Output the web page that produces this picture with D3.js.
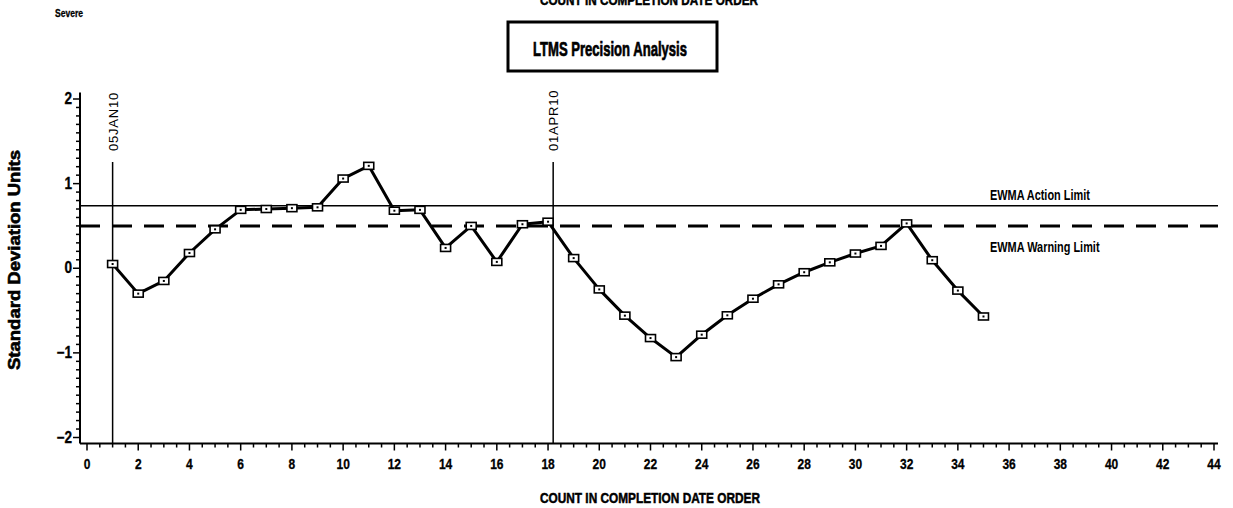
<!DOCTYPE html>
<html><head><meta charset="utf-8">
<script src="https://cdn.jsdelivr.net/npm/d3@7"></script>
<style>
body{margin:0;background:#fff;}
text{fill:#000;}
</style></head>
<body>
<svg id="chart" width="1233" height="508"></svg>
<script>
const counts = d3.range(1, 36);
const ewma = [0.05,-0.30,-0.15,0.18,0.46,0.69,0.70,0.71,0.72,1.06,1.21,0.68,0.69,0.24,0.50,0.075,0.52,0.55,0.12,-0.25,-0.56,-0.825,-1.05,-0.785,-0.556,-0.36,-0.19,-0.047,0.07,0.174,0.264,0.53,0.095,-0.264,-0.57];
const actionLimit = 0.74;
const warningLimit = 0.50;
const refLines = [{x:1, label:"05JAN10"},{x:18.2, label:"01APR10"}];
const xTicks = d3.range(0, 45, 2);
const yTicks = [-2,-1,0,1,2];

const svg = d3.select("#chart");
const sans = "'Liberation Sans',Arial,sans-serif";
const x = d3.scaleLinear().domain([0,44]).range([87,1214]);
const y = d3.scaleLinear().domain([-2,2]).range([437.5,99]);
const xLeft = 80, xRight = 1218, yBottom = 443.5, yTop = 92.5;

function ctext(px, py, str, size, anchor, sx, weight){
  return svg.append("text").attr("transform",`translate(${px},${py}) scale(${sx},1)`)
    .attr("text-anchor",anchor).style("font-family",sans).style("font-weight",weight||"bold")
    .style("font-size",size+"px").text(str);
}

// axes lines
svg.append("line").attr("x1",xLeft).attr("x2",xRight).attr("y1",yBottom).attr("y2",yBottom).attr("stroke","#000").attr("stroke-width",2);
svg.append("line").attr("x1",xLeft).attr("x2",xLeft).attr("y1",yTop).attr("y2",yBottom).attr("stroke","#000").attr("stroke-width",2);

// x ticks
const xMinor = d3.range(0, 44.01, 0.5);
svg.append("g").selectAll("line").data(xMinor).join("line")
  .attr("x1",d=>x(d)).attr("x2",d=>x(d)).attr("y1",yBottom)
  .attr("y2",d=>yBottom + (d%2===0?7:4)).attr("stroke","#000").attr("stroke-width",1.5);
svg.append("g").selectAll("text").data(xTicks).join("text")
  .attr("transform",d=>`translate(${x(d)},${yBottom+25}) scale(0.8,1)`).attr("text-anchor","middle")
  .style("font-family",sans).style("font-weight","bold").style("font-size","15px")
  .style("stroke","#000").style("stroke-width","0.3px")
  .text(d=>d);

// y ticks
const yMinor = d3.range(-20, 21).map(d=>d/10);
svg.append("g").selectAll("line").data(yMinor).join("line")
  .attr("y1",d=>y(d)).attr("y2",d=>y(d)).attr("x1",xLeft)
  .attr("x2",d=>xLeft - (Math.abs(d - Math.round(d))<1e-9?7:4)).attr("stroke","#000").attr("stroke-width",1.5);
svg.append("g").selectAll("text").data(yTicks).join("text")
  .attr("transform",d=>`translate(${xLeft-8},${y(d)+5}) scale(0.85,1)`).attr("text-anchor","end")
  .style("font-family",sans).style("font-weight","bold").style("font-size","16px")
  .style("stroke","#000").style("stroke-width","0.3px")
  .text(d=>d<0?"\u2212"+Math.abs(d):d);

// limit lines
svg.append("line").attr("x1",xLeft).attr("x2",xRight).attr("y1",y(actionLimit)).attr("y2",y(actionLimit)).attr("stroke","#000").attr("stroke-width",1.5);
svg.append("line").attr("x1",xLeft).attr("x2",xRight).attr("y1",y(warningLimit)).attr("y2",y(warningLimit)).attr("stroke","#000").attr("stroke-width",3).attr("stroke-dasharray","20,12");
ctext(990, y(actionLimit)-6, "EWMA Action Limit", 14, "start", 0.78);
ctext(990, y(warningLimit)+26, "EWMA Warning Limit", 14, "start", 0.78);

// reference lines
refLines.forEach(r=>{
  svg.append("line").attr("x1",x(r.x)).attr("x2",x(r.x)).attr("y1",162).attr("y2",yBottom).attr("stroke","#000").attr("stroke-width",1.5);
  svg.append("text").attr("transform",`translate(${x(r.x)+5},151) rotate(-90)`)
    .style("font-family",sans).style("font-size","13px").style("letter-spacing","0.8px").text(r.label);
});

// data line
const pts = counts.map((c,i)=>({c, v:ewma[i]}));
svg.append("path").datum(pts)
  .attr("d", d3.line().x(d=>x(d.c)).y(d=>y(d.v)))
  .attr("fill","none").attr("stroke","#000").attr("stroke-width",3).attr("stroke-linejoin","round");
const mk = svg.append("g").selectAll("g").data(pts).join("g").attr("transform",d=>`translate(${x(d.c)},${y(d.v)})`);
mk.append("rect").attr("x",-5).attr("y",-3.5).attr("width",10).attr("height",7).attr("fill","#fff").attr("stroke","#000").attr("stroke-width",1.6);
mk.append("rect").attr("x",-1).attr("y",-1).attr("width",2).attr("height",2).attr("fill","#000");

// titles
svg.append("text").attr("x",649).attr("y",5).attr("text-anchor","middle")
  .attr("textLength",218).attr("lengthAdjust","spacingAndGlyphs")
  .style("font-family",sans).style("font-weight","bold").style("font-size","15px")
  .style("stroke","#000").style("stroke-width","0.5px").text("COUNT IN COMPLETION DATE ORDER");
svg.append("text").attr("x",55).attr("y",17)
  .attr("textLength",28).attr("lengthAdjust","spacingAndGlyphs")
  .style("font-family",sans).style("font-weight","bold").style("font-size","10px")
  .style("stroke","#000").style("stroke-width","0.3px").text("Severe");
svg.append("rect").attr("x",508).attr("y",22).attr("width",209).attr("height",49).attr("fill","none").attr("stroke","#000").attr("stroke-width",3);
svg.append("text").attr("x",533).attr("y",56)
  .attr("textLength",154).attr("lengthAdjust","spacingAndGlyphs")
  .style("font-family",sans).style("font-weight","bold").style("font-size","20px")
  .style("stroke","#000").style("stroke-width","0.7px").text("LTMS Precision Analysis");
svg.append("text").attr("transform","translate(20,260) rotate(-90)").attr("text-anchor","middle")
  .attr("textLength",220).attr("lengthAdjust","spacingAndGlyphs")
  .style("font-family",sans).style("font-weight","bold").style("font-size","16px").style("stroke","#000").style("stroke-width","0.6px").text("Standard Deviation Units");
svg.append("text").attr("x",540).attr("y",503)
  .attr("textLength",220).attr("lengthAdjust","spacingAndGlyphs")
  .style("font-family",sans).style("font-weight","bold").style("font-size","15px").style("stroke","#000").style("stroke-width","0.5px").text("COUNT IN COMPLETION DATE ORDER");
</script>
</body></html>
